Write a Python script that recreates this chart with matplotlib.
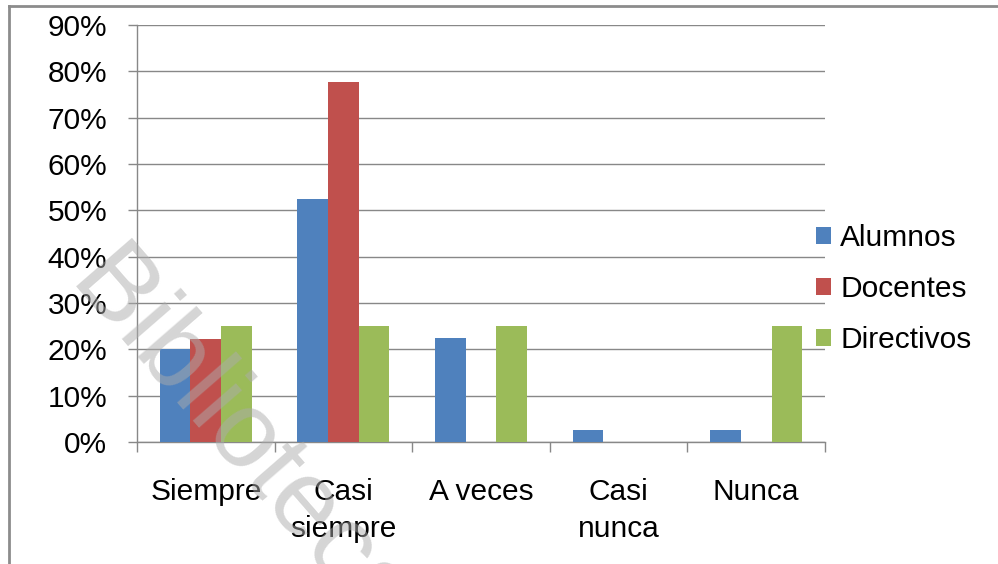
import numpy as np
import matplotlib
matplotlib.use('Agg')
from matplotlib import pyplot as plt
from matplotlib.patches import Patch
from matplotlib.lines import Line2D

plt.rcParams['font.family'] = ['Liberation Sans', 'DejaVu Sans']

# data (percent)
categories = ['Siempre', 'Casi\nsiempre', 'A veces', 'Casi\nnunca', 'Nunca']
series_names = ['Alumnos', 'Docentes', 'Directivos']
alumnos = [20.0, 52.5, 22.5, 2.5, 2.5]
docentes = [22.2, 77.8, 0, 0, 0]
directivos = [25, 25, 25, 0, 25]
colors = ['#4F81BD', '#C0504D', '#9BBB59']

fs = 21.5
grid_col = '#888888'

fig = plt.figure(figsize=(9.98, 5.64), dpi=100)
ax = fig.add_axes([0.1373, 0.2163, 0.6894, 0.7394])

x = np.arange(len(categories))
bar_w = 0.223
for i, vals in enumerate([alumnos, docentes, directivos]):
    ax.bar(x + (i - 1) * bar_w, vals, bar_w, color=colors[i], zorder=3)

ax.set_xlim(-0.5, len(categories) - 0.5)
ax.set_ylim(0, 90)
ax.set_yticks(np.arange(0, 91, 10))
ax.set_yticklabels([f'{v}%' for v in range(0, 91, 10)], fontsize=fs)
ax.yaxis.grid(True, color=grid_col, linewidth=1, zorder=0)
ax.tick_params(axis='y', length=6.5, width=1, color=grid_col, pad=15)

ax.set_xticks(x)
ax.set_xticklabels(categories, fontsize=fs, linespacing=1.4)
ax.tick_params(axis='x', which='major', length=0, pad=26)
ax.set_xticks(np.arange(-0.5, len(categories)), minor=True)
ax.tick_params(axis='x', which='minor', length=7.5, width=1, color=grid_col)

for s in ['top', 'right']:
    ax.spines[s].set_visible(False)
for s in ['left', 'bottom']:
    ax.spines[s].set_color(grid_col)
    ax.spines[s].set_linewidth(1)

handles = [Patch(facecolor=c, edgecolor='none') for c in colors]
fig.legend(handles, series_names, loc='center left', bbox_to_anchor=(0.791, 0.487),
           frameon=False, fontsize=fs, handlelength=0.5, handleheight=0.5,
           handletextpad=0.3, labelspacing=0.77)

# outer frame (cropped)
fig.add_artist(Line2D([0.0095, 0.0095], [0, 0.99], transform=fig.transFigure,
                      color='#8c8c8c', linewidth=2))
fig.add_artist(Line2D([0.0095, 1.0], [0.99, 0.99], transform=fig.transFigure,
                      color='#8c8c8c', linewidth=2))

# watermark
fig.text(0.2200, 0.1800, 'Biblioteca', fontsize=78, color='#acacac', alpha=0.5,
         rotation=-49, rotation_mode='anchor', ha='center', va='baseline', zorder=10)

fig.savefig('out.png', dpi=100)
